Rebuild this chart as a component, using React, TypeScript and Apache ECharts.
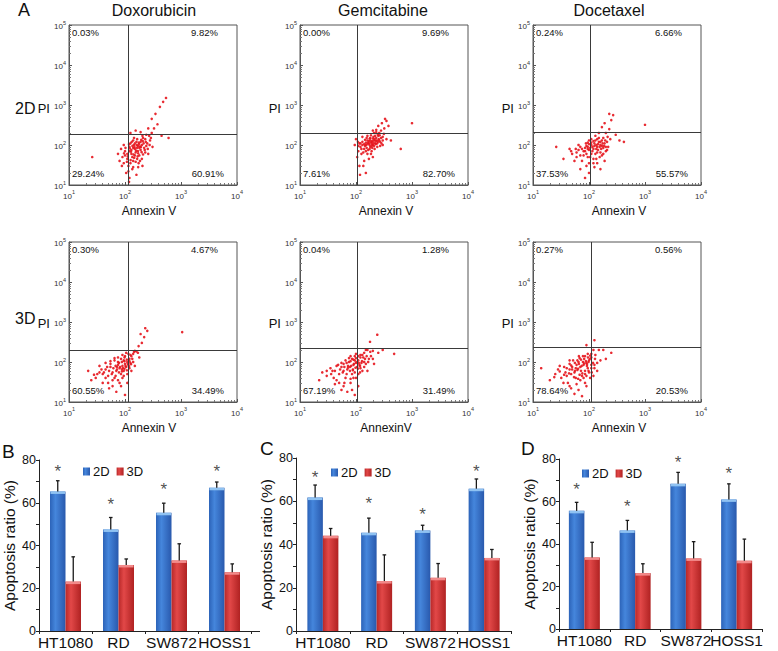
import React, { useEffect, useRef } from 'react';
import * as echarts from 'echarts';

const FONT = "'Liberation Sans', Arial, Helvetica, sans-serif";

// ---------- Panel A: flow cytometry ----------
const drugTitles = ['Doxorubicin', 'Gemcitabine', 'Docetaxel'];
const cultureLabels = ['2D', '3D'];
const annexinLabels = ['Annexin V', 'Annexin V', 'Annexin V', 'Annexin V', 'AnnexinV', 'Annexin V'];
const quadrantPct = [
  ['0.03%', '9.82%', '29.24%', '60.91%'],
  ['0.00%', '9.69%', '7.61%', '82.70%'],
  ['0.24%', '6.66%', '37.53%', '55.57%'],
  ['0.30%', '4.67%', '60.55%', '34.49%'],
  ['0.04%', '1.28%', '67.19%', '31.49%'],
  ['0.27%', '0.56%', '78.64%', '20.53%'],
];
const gateAnnexin = [112, 107, 105, 112, 107, 108];
const gatePI = [190, 195, 210, 200, 220, 240];

const dox2D = [
  [130, 60], [150, 80], [110, 45], [170, 70], [200, 100], [120, 90], [140, 40], [180, 55], [160, 120], [210, 150],
  [100, 70], [90, 50], [115, 30], [135, 25], [175, 35], [220, 85], [250, 110], [280, 130], [300, 200], [240, 180],
  [190, 210], [330, 260], [380, 330], [300, 450], [350, 600], [420, 900], [480, 1200], [540, 1500], [260, 260], [230, 140],
  [125, 110], [145, 150], [95, 35], [85, 80], [105, 20], [120, 15], [160, 18], [200, 45], [260, 60], [310, 90],
  [150, 55], [130, 75], [170, 95], [110, 60], [140, 130], [190, 75], [205, 30], [95, 100], [80, 40], [75, 60],
  [118, 12], [145, 100], [165, 45], [230, 65], [270, 170], [450, 170], [600, 150], [26, 50], [125, 200], [155, 230],
  [135, 50], [155, 65], [120, 70], [180, 85], [100, 55], [140, 85], [165, 140], [190, 120], [215, 110], [125, 35],
  [112, 52], [128, 68], [142, 58], [158, 72], [172, 62], [186, 92], [198, 66], [122, 82], [136, 95], [150, 110],
  [164, 85], [178, 105], [192, 88], [108, 38], [126, 42], [146, 48], [168, 52], [185, 40], [210, 58], [225, 75],
  [118, 105], [132, 120], [148, 88], [162, 100], [176, 115], [195, 135], [208, 125], [102, 85], [96, 62], [88, 30],
  [115, 22], [140, 28], [155, 38], [172, 28], [240, 95], [255, 80], [275, 100], [290, 150], [235, 120], [205, 170],
];
const gem2D = [
  [170, 110], [190, 120], [150, 100], [210, 130], [230, 150], [180, 90], [160, 130], [200, 100], [140, 80], [250, 170],
  [220, 110], [130, 120], [120, 90], [110, 70], [105, 50], [115, 30], [118, 18], [125, 60], [160, 60], [190, 70],
  [260, 200], [280, 230], [300, 160], [320, 260], [290, 350], [330, 450], [350, 400], [380, 300], [250, 300], [270, 120],
  [240, 90], [300, 100], [350, 140], [420, 130], [630, 80], [1000, 350], [140, 40], [170, 45], [200, 50], [95, 100],
  [100, 140], [130, 160], [155, 150], [185, 175], [210, 200], [230, 210], [150, 20], [135, 30], [175, 145], [205, 160],
  [165, 115], [195, 105], [180, 130], [145, 95], [225, 125], [255, 140], [120, 110], [110, 95], [270, 95], [215, 80],
  [160, 105], [175, 100], [185, 115], [195, 125], [205, 115], [215, 140], [225, 105], [235, 130], [245, 120], [180, 150],
  [170, 125], [150, 115], [140, 105], [130, 100], [155, 85], [165, 75], [195, 85], [210, 95], [240, 110], [260, 130],
  [280, 150], [265, 175], [245, 185], [220, 170], [200, 145], [190, 95], [175, 80], [125, 80], [135, 65], [150, 70],
  [115, 110], [108, 120], [285, 110], [300, 130], [315, 190], [230, 240], [200, 230], [160, 170], [145, 135], [185, 60],
];
const doc2D = [
  [100, 75], [120, 80], [90, 60], [140, 90], [160, 100], [110, 100], [80, 70], [130, 60], [150, 120], [170, 130],
  [70, 55], [60, 65], [50, 60], [45, 80], [35, 45], [26, 90], [75, 40], [90, 30], [100, 20], [85, 15], [120, 45],
  [140, 35], [170, 55], [200, 70], [220, 90], [180, 150], [200, 200], [230, 250], [170, 280], [190, 350], [250, 420],
  [270, 560], [230, 600], [300, 180], [350, 130], [420, 120], [1000, 320], [150, 200], [130, 170], [110, 140],
  [95, 115], [65, 100], [55, 40], [105, 50], [125, 110], [145, 75], [160, 65], [180, 85], [210, 120], [240, 140],
  [115, 90], [135, 100], [100, 130], [85, 85], [190, 40], [160, 25], [70, 25], [125, 28], [95, 90], [150, 150],
  [105, 85], [115, 70], [125, 95], [135, 80], [145, 105], [155, 90], [165, 80], [175, 110], [185, 95], [95, 80],
  [85, 70], [75, 80], [65, 75], [90, 95], [100, 105], [110, 115], [120, 125], [140, 140], [160, 120], [190, 110],
  [200, 90], [210, 75], [180, 60], [155, 50], [135, 45], [110, 60], [95, 50], [80, 55], [70, 90], [60, 50],
  [120, 35], [100, 35], [140, 65], [170, 95], [195, 130], [215, 160], [130, 130], [88, 110], [58, 80], [48, 70],
];
const dox3D = [
  [80, 70], [90, 80], [70, 60], [100, 90], [110, 100], [75, 85], [60, 55], [95, 60], [120, 120], [130, 140],
  [50, 45], [40, 50], [30, 40], [25, 35], [22, 60], [35, 80], [45, 65], [55, 90], [65, 110], [85, 120],
  [100, 140], [140, 160], [150, 190], [170, 170], [160, 185], [200, 300], [220, 420], [250, 600], [230, 700], [190, 500],
  [1050, 560], [120, 70], [140, 100], [110, 50], [90, 40], [80, 30], [60, 25], [70, 18], [100, 15], [110, 30],
  [130, 60], [150, 80], [180, 130], [65, 40], [50, 30], [55, 75], [75, 100], [95, 110], [115, 85], [85, 50],
  [105, 75], [125, 95], [45, 40], [35, 55], [88, 65], [72, 75], [98, 130], [115, 160], [145, 180], [175, 250],
  [72, 65], [82, 75], [92, 70], [102, 80], [112, 90], [68, 80], [78, 95], [88, 100], [98, 105], [108, 115],
  [62, 70], [52, 60], [58, 50], [68, 45], [78, 55], [88, 58], [98, 68], [108, 62], [118, 78], [128, 88],
  [42, 55], [48, 75], [38, 65], [32, 50], [28, 48], [55, 105], [65, 125], [75, 130], [90, 150], [105, 170],
  [125, 150], [135, 120], [120, 105], [60, 35], [75, 35], [95, 45], [40, 30], [52, 22], [85, 25], [45, 95],
];
const gem3D = [
  [78, 75], [90, 85], [70, 65], [100, 95], [110, 110], [85, 120], [60, 60], [95, 55], [120, 130], [130, 150],
  [50, 50], [40, 40], [30, 45], [25, 55], [22, 35], [35, 70], [45, 80], [55, 95], [65, 110], [80, 140],
  [100, 160], [140, 170], [160, 200], [180, 180], [150, 200], [200, 190], [250, 170], [300, 200], [480, 160], [240, 480],
  [178, 320], [120, 70], [140, 100], [110, 50], [90, 40], [80, 30], [60, 25], [70, 18], [95, 15], [110, 25],
  [130, 60], [150, 90], [170, 120], [65, 40], [50, 30], [55, 75], [75, 100], [95, 110], [115, 85], [85, 50],
  [105, 75], [125, 95], [45, 35], [38, 60], [88, 65], [72, 80], [60, 90], [160, 60], [200, 120], [210, 90],
  [82, 80], [92, 90], [72, 72], [102, 100], [112, 95], [68, 95], [80, 105], [90, 115], [100, 125], [110, 140],
  [62, 75], [52, 65], [58, 55], [68, 50], [78, 60], [88, 62], [98, 72], [108, 68], [118, 80], [128, 105],
  [42, 60], [48, 85], [36, 50], [30, 60], [120, 150], [135, 130], [145, 120], [155, 140], [75, 125], [95, 140],
  [62, 30], [80, 38], [100, 40], [118, 55], [42, 28], [55, 20], [85, 20], [140, 75], [165, 100], [185, 140],
];
const doc3D = [
  [62, 63], [70, 75], [55, 55], [80, 85], [90, 95], [65, 100], [48, 50], [75, 45], [100, 110], [110, 130],
  [40, 45], [32, 40], [25, 50], [20, 35], [14, 70], [28, 65], [36, 75], [45, 90], [52, 110], [68, 125],
  [85, 140], [110, 160], [120, 200], [130, 150], [90, 265], [125, 350], [150, 200], [180, 200], [250, 170], [200, 120],
  [95, 70], [110, 85], [85, 50], [70, 35], [60, 28], [48, 22], [55, 16], [75, 14], [90, 25], [105, 40],
  [125, 70], [140, 95], [58, 40], [42, 30], [45, 65], [60, 85], [78, 100], [92, 80], [68, 48], [85, 60],
  [100, 55], [120, 45], [38, 55], [50, 75], [72, 60], [58, 70], [45, 110], [140, 60], [160, 110], [95, 160],
  [64, 68], [74, 80], [56, 60], [82, 92], [92, 88], [66, 90], [50, 65], [76, 52], [98, 100], [104, 120],
  [44, 52], [36, 48], [30, 58], [24, 42], [40, 70], [48, 82], [56, 95], [62, 110], [72, 115], [82, 120],
  [88, 105], [96, 130], [105, 145], [78, 140], [66, 140], [54, 42], [64, 38], [80, 40], [90, 45], [98, 60],
  [110, 70], [118, 95], [128, 120], [35, 30], [45, 25], [65, 20], [85, 30], [112, 55], [125, 85], [30, 80],
];
const cytometrySets = [dox2D, gem2D, doc2D, dox3D, gem3D, doc3D];

// ---------- Panels B, C, D: apoptosis bars ----------
const cellLines = ['HT1080', 'RD', 'SW872', 'HOSS1'];
const panelLetters = ['B', 'C', 'D'];
const legendNames = ['2D', '3D'];
const yAxisName = 'Apoptosis ratio (%)';

const b2D = [65.3, 47.5, 55.3, 67];
const b2DErr = [5, 5.6, 4.5, 2.7];
const b3D = [23.1, 30.9, 33, 27.5];
const b3DErr = [11.6, 2.8, 7.8, 3.9];
const bStars = [76.7, 61, 68, 76.7];

const c2D = [61.7, 45.4, 46.5, 65.8];
const c2DErr = [5.8, 6.8, 2.4, 4.5];
const c3D = [44, 23.1, 24.6, 33.8];
const c3DErr = [3.4, 12.1, 6.6, 3.9];
const cStars = [72.8, 60.8, 55.7, 75.5];

const d2D = [55.6, 46.4, 68.3, 61];
const d2DErr = [4, 4.7, 5.4, 7.3];
const d3D = [33.7, 26.3, 33.2, 32.1];
const d3DErr = [7.1, 4.4, 7.9, 10.2];
const dStars = [67.6, 59.7, 80.1, 74.9];

// ---------- layout ----------
const SC_LEFT = [69, 300, 533];
const SC_TOP = [25, 242];
const SC_W = 168;
const SC_H = 160;
const BAR_GRID = [
  { left: 39, top: 460, width: 212, height: 171 },
  { left: 296, top: 458, width: 215, height: 173 },
  { left: 559, top: 459, width: 203, height: 170 },
];
const BW = 15.5;

const supLabel = (v: number) => `{b|10}{s|${Math.round(Math.log10(v))}}`;
const supRich = {
  b: { fontSize: 8, fontFamily: FONT, color: '#333', verticalAlign: 'bottom', lineHeight: 11 },
  s: { fontSize: 5.5, fontFamily: FONT, color: '#333', verticalAlign: 'top', lineHeight: 11 },
};

function buildOption() {
  const grid: any[] = [];
  const xAxis: any[] = [];
  const yAxis: any[] = [];
  const series: any[] = [];
  const graphic: any[] = [];
  const txt = (text: string, x: number, y: number, size: number, align = 'center', extra: any = {}) => ({
    type: 'text', x, y, silent: true,
    style: { text, fontSize: size, fontFamily: FONT, fill: '#111', textAlign: align, textVerticalAlign: 'middle', ...extra },
  });

  cytometrySets.forEach((pts, i) => {
    const row = Math.floor(i / 3);
    const col = i % 3;
    const left = SC_LEFT[col];
    const top = SC_TOP[row];
    grid.push({ left, top, width: SC_W, height: SC_H, show: true, borderColor: '#555', borderWidth: 1, containLabel: false });
    xAxis.push({
      type: 'log', logBase: 10, min: 10, max: 10000, gridIndex: i,
      axisLine: { show: true, lineStyle: { color: '#555' } },
      axisTick: { show: true, inside: true, length: 3, lineStyle: { color: '#555' } },
      minorTick: { show: true, splitNumber: 9, length: 2, lineStyle: { color: '#777' } },
      splitLine: { show: false },
      axisLabel: { formatter: supLabel, rich: supRich, margin: 4 },
    });
    yAxis.push({
      type: 'log', logBase: 10, min: 10, max: 100000, gridIndex: i,
      axisLine: { show: true, lineStyle: { color: '#555' } },
      axisTick: { show: true, inside: true, length: 3, lineStyle: { color: '#555' } },
      minorTick: { show: true, splitNumber: 9, length: 2, lineStyle: { color: '#777' } },
      splitLine: { show: false },
      axisLabel: { formatter: supLabel, rich: supRich, margin: 3 },
    });
    series.push({
      type: 'scatter', xAxisIndex: i, yAxisIndex: i, data: pts, symbolSize: 2.6,
      itemStyle: { color: '#e5141c', opacity: 0.9 }, silent: true,
      markLine: {
        silent: true, symbol: 'none', animation: false, label: { show: false },
        lineStyle: { color: '#3a3a3a', width: 1, type: 'solid' },
        data: [{ xAxis: gateAnnexin[i] }, { yAxis: gatePI[i] }],
      },
    });
    const q = quadrantPct[i];
    graphic.push(txt(q[0], left + 3, top + 7, 9.5, 'left'));
    graphic.push(txt(q[1], left + SC_W - 19, top + 7, 9.5, 'right'));
    graphic.push(txt(q[2], left + 3, top + SC_H - 12, 9.5, 'left'));
    graphic.push(txt(q[3], left + SC_W - 13, top + SC_H - 12, 9.5, 'right'));
    graphic.push(txt('PI', left - 19, top + (row === 0 ? 83 : 81), 13, 'right'));
    const axX = [149, 386, 619][col];
    graphic.push(txt(annexinLabels[i], axX, top + SC_H + 26, 12));
  });

  drugTitles.forEach((t, c) => graphic.push(txt(t, [154, 383, 609][c], 10, 16)));
  cultureLabels.forEach((t, r) => graphic.push(txt(t, 15, [108, 318][r], 16, 'left')));
  graphic.push(txt('A', 18, 10, 18, 'left'));

  const panels = [
    { v2: b2D, e2: b2DErr, v3: b3D, e3: b3DErr, star: bStars },
    { v2: c2D, e2: c2DErr, v3: c3D, e3: c3DErr, star: cStars },
    { v2: d2D, e2: d2DErr, v3: d3D, e3: d3DErr, star: dStars },
  ];
  const blueGrad = () => new echarts.graphic.LinearGradient(0, 0, 1, 0, [
    { offset: 0, color: '#2c63b8' }, { offset: 0.35, color: '#4586dc' }, { offset: 1, color: '#2959ad' },
  ]);
  const redGrad = () => new echarts.graphic.LinearGradient(0, 0, 1, 0, [
    { offset: 0, color: '#b82828' }, { offset: 0.35, color: '#e24848' }, { offset: 1, color: '#b02222' },
  ]);
  const errRender = (side: number, cap: string) => (params: any, api: any) => {
    const idx = api.value(0);
    const v = api.value(1);
    const e = api.value(2);
    const p0 = api.coord([idx, v]);
    const p1 = api.coord([idx, v + e]);
    const cx = p0[0] + (side * BW) / 2;
    return {
      type: 'group',
      children: [
        { type: 'rect', shape: { x: cx - BW / 2 + 0.5, y: p0[1], width: BW - 1, height: 2.5 }, style: { fill: cap } },
        { type: 'line', shape: { x1: cx, y1: p0[1], x2: cx, y2: p1[1] }, style: { stroke: '#1a1a1a', lineWidth: 1.3 } },
        { type: 'line', shape: { x1: cx - 1.8, y1: p1[1], x2: cx + 1.8, y2: p1[1] }, style: { stroke: '#1a1a1a', lineWidth: 1.3 } },
      ],
    };
  };
  const legends: any[] = [];
  const legendPos = [
    { left: 83, top: 465 },
    { left: 331, top: 466 },
    { left: 582, top: 467 },
  ];
  const letterPos = [
    [2, 451], [260, 448], [521, 448],
  ];

  panels.forEach((p, k) => {
    const gi = 6 + k;
    const g = BAR_GRID[k];
    grid.push({ ...g, show: false, containLabel: false });
    xAxis.push({
      type: 'category', data: cellLines, gridIndex: gi,
      axisLine: { show: true, lineStyle: { color: '#222', width: 1 } },
      axisTick: { show: true, length: 3, lineStyle: { color: '#222' } },
      axisLabel: { fontSize: 15.5, fontFamily: FONT, color: '#111', margin: 3, interval: 0 },
    });
    yAxis.push({
      type: 'value', min: 0, max: 80, interval: 20, gridIndex: gi,
      name: yAxisName, nameLocation: 'middle', nameGap: 22, nameRotate: 90,
      nameTextStyle: { fontSize: 15.5, fontFamily: FONT, color: '#111' },
      axisLine: { show: true, lineStyle: { color: '#222', width: 1 } },
      axisTick: { show: true, length: 3, lineStyle: { color: '#222' } },
      minorTick: { show: true, splitNumber: 2, length: 3, lineStyle: { color: '#222' } },
      splitLine: { show: false },
      axisLabel: { fontSize: 12.5, fontFamily: FONT, color: '#111', margin: 3 },
    });
    series.push({
      name: legendNames[0], type: 'bar', xAxisIndex: gi, yAxisIndex: gi, data: p.v2,
      barWidth: BW, barGap: '0%', itemStyle: { color: blueGrad() }, silent: true,
    });
    series.push({
      name: legendNames[1], type: 'bar', xAxisIndex: gi, yAxisIndex: gi, data: p.v3,
      barWidth: BW, barGap: '0%', itemStyle: { color: redGrad() }, silent: true,
    });
    series.push({
      type: 'custom', xAxisIndex: gi, yAxisIndex: gi, silent: true,
      data: p.v2.map((v, i) => [i, v, p.e2[i]]), encode: { x: 0, y: 1 },
      renderItem: errRender(-1, '#8fc2f2'), z: 3,
    });
    series.push({
      type: 'custom', xAxisIndex: gi, yAxisIndex: gi, silent: true,
      data: p.v3.map((v, i) => [i, v, p.e3[i]]), encode: { x: 0, y: 1 },
      renderItem: errRender(1, '#f28a8a'), z: 3,
    });
    series.push({
      type: 'scatter', xAxisIndex: gi, yAxisIndex: gi, silent: true, clip: false,
      data: p.star.map((s, i) => [i, s]), symbolSize: 1,
      itemStyle: { color: 'rgba(0,0,0,0)' },
      label: {
        show: true, formatter: '*', position: 'inside', offset: [-BW / 2, 4],
        fontSize: 17, fontFamily: FONT, color: '#222',
      },
    });
    legends.push({
      ...legendPos[k], data: legendNames, icon: 'rect', itemWidth: 7, itemHeight: 8, itemGap: 7,
      padding: 0, selectedMode: false,
      textStyle: { fontSize: 13, fontFamily: FONT, color: '#111', padding: [0, 0, 0, -2] },
    });
    graphic.push(txt(panelLetters[k], letterPos[k][0], letterPos[k][1], 19, 'left'));
  });
  // x axis line of panel B extends past the last category
  graphic.push({
    type: 'line', silent: true,
    shape: { x1: BAR_GRID[0].left + BAR_GRID[0].width, y1: BAR_GRID[0].top + BAR_GRID[0].height + 0.5, x2: 260, y2: BAR_GRID[0].top + BAR_GRID[0].height + 0.5 },
    style: { stroke: '#222', lineWidth: 1 },
  });

  return {
    animation: false,
    backgroundColor: '#ffffff',
    textStyle: { fontFamily: FONT },
    grid, xAxis, yAxis, series, graphic, legend: legends,
  };
}

export default function App() {
  const ref = useRef<HTMLDivElement>(null);
  useEffect(() => {
    if (!ref.current) return;
    const chart = echarts.init(ref.current, undefined, { renderer: 'svg' });
    chart.setOption(buildOption() as any);
    return () => chart.dispose();
  }, []);
  return (
    <div
      ref={ref}
      style={{ position: 'absolute', left: 0, top: 0, width: 778, height: 651, background: '#fff' }}
    />
  );
}
